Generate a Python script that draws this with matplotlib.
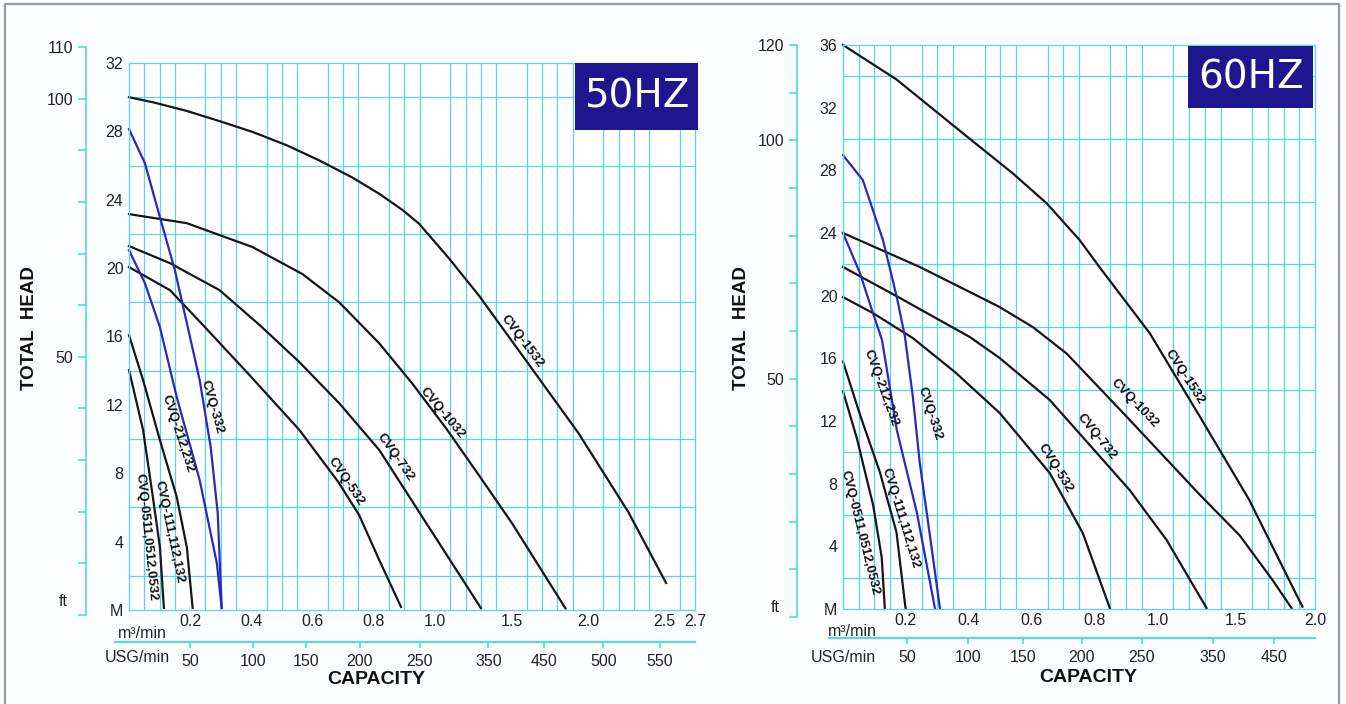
import numpy as np
import matplotlib.pyplot as plt
from matplotlib.patches import Rectangle

plt.rcParams['font.family'] = ['Liberation Sans', 'DejaVu Sans']

GRID = '#55d6ee'
BLUE = '#2c28bd'
BLACK = '#161616'
BOXC = '#1d168e'

W, H = 1346, 704


###### DATA ######
# capacity in m3/min, head in M

# --- 50HZ ---
q1532_50 = [0, 0.079, 0.188, 0.296, 0.405, 0.514, 0.622, 0.73, 0.818, 0.894, 0.948, 1.091, 1.287, 1.612, 1.938, 2.264, 2.511]
h1532_50 = [30.0, 29.7, 29.2, 28.6, 27.96, 27.2, 26.3, 25.3, 24.35, 23.4, 22.6, 20.58, 18.4, 14.39, 10.35, 5.73, 1.58]
q1032_50 = [0, 0.189, 0.404, 0.567, 0.687, 0.818, 0.925, 1.072, 1.287, 1.502, 1.853]
h1032_50 = [23.16, 22.63, 21.23, 19.65, 18.0, 15.6, 13.27, 10.64, 7.89, 5.1, 0.1]
q732_50 = [0, 0.134, 0.296, 0.427, 0.557, 0.687, 0.818, 0.98, 1.3]
h732_50 = [21.29, 20.29, 18.71, 16.67, 14.5, 12.1, 9.36, 4.85, 0.12]
q532_50 = [0, 0.134, 0.248, 0.394, 0.557, 0.684, 0.752, 0.818, 0.889]
h532_50 = [20.06, 18.71, 16.55, 13.74, 10.53, 7.49, 5.56, 2.92, 0.18]
q332_50 = [0, 0.052, 0.101, 0.15, 0.192, 0.231, 0.267, 0.29, 0.303]
h332_50 = [28.13, 26.14, 22.98, 19.88, 16.55, 13.45, 9.53, 5.67, 0.12]
q212_50 = [0, 0.052, 0.101, 0.156, 0.231, 0.287, 0.303]
h212_50 = [21.05, 19.12, 16.55, 12.46, 7.6, 2.75, 0.12]
q111_50 = [0, 0.046, 0.101, 0.156, 0.189, 0.208]
h111_50 = [16.08, 13.45, 9.94, 6.61, 3.68, 0.12]
q0511_50 = [0, 0.046, 0.078, 0.101, 0.114]
h0511_50 = [14.04, 10.53, 6.61, 3.68, 0.12]

# --- 60HZ ---
q1532_60 = [0, 0.17, 0.382, 0.54, 0.647, 0.752, 0.816, 0.975, 1.267, 1.58, 1.92]
h1532_60 = [36.0, 33.8, 30.35, 27.8, 25.9, 23.55, 21.8, 17.6, 12.3, 7.0, 0.15]
q1032_60 = [0, 0.244, 0.435, 0.498, 0.603, 0.711, 0.905, 1.267, 1.521, 1.73, 1.851]
h1032_60 = [24.0, 21.83, 19.91, 19.27, 18.0, 16.3, 12.2, 7.3, 4.7, 1.85, 0.06]
q732_60 = [0, 0.181, 0.403, 0.498, 0.657, 0.784, 0.911, 1.057, 1.311]
h732_60 = [21.83, 19.85, 17.36, 16.02, 13.34, 10.47, 7.59, 4.4, 0.06]
q532_60 = [0, 0.095, 0.222, 0.356, 0.498, 0.657, 0.762, 0.848]
h532_60 = [19.91, 18.89, 17.29, 15.12, 12.51, 8.68, 4.85, 0.06]
q332_60 = [0, 0.063, 0.127, 0.171, 0.197, 0.222, 0.244, 0.276, 0.308]
h332_60 = [28.97, 27.38, 23.55, 19.91, 17.36, 13.53, 9.32, 4.72, 0.06]
q212_60 = [0, 0.054, 0.092, 0.124, 0.171, 0.235, 0.292]
h212_60 = [24.0, 21.44, 19.08, 17.17, 11.42, 6.13, 0.06]
q111_60 = [0, 0.054, 0.117, 0.17, 0.199]
h111_60 = [15.8, 12.4, 8.75, 4.9, 0.0]
q0511_60 = [0, 0.044, 0.096, 0.123, 0.133]
h0511_60 = [13.9, 10.9, 6.6, 3.3, 0.0]

# curve labels
lab_names = ['CVQ-0511,0512,0532', 'CVQ-111,112,132', 'CVQ-212,232', 'CVQ-332',
             'CVQ-532', 'CVQ-732', 'CVQ-1032', 'CVQ-1532']
lab_q_50 = [0.055, 0.133, 0.159, 0.272, 0.71, 0.872, 1.048, 1.57]
lab_h_50 = [4.27, 4.56, 10.3, 11.9, 7.5, 8.95, 11.5, 15.7]
lab_rot_50 = [-84, -78, -72, -74, -56, -55, -50, -53]
lab_q_60 = [0.054, 0.184, 0.121, 0.276, 0.676, 0.806, 0.927, 1.17]
lab_h_60 = [4.85, 5.8, 14.1, 12.5, 9.0, 11.0, 13.1, 14.8]
lab_rot_60 = [-76, -73, -70, -72, -58, -51, -46, -57]

# axes ticks
m3_ticks_50 = [0.2, 0.4, 0.6, 0.8, 1.0, 1.5, 2.0, 2.5, 2.7]
m3_ticks_60 = [0.2, 0.4, 0.6, 0.8, 1.0, 1.5, 2.0]
usg_labels_50 = ['50', '100', '150', '200', '250', '350', '450', '500', '550']
usg_at_50 = [0.2, 0.405, 0.58, 0.755, 0.95, 1.35, 1.71, 2.1, 2.47]
usg_labels_60 = ['50', '100', '150', '200', '250', '350', '450']
usg_at_60 = [0.203, 0.397, 0.571, 0.759, 0.949, 1.35, 1.74]
head_ticks_50 = [0, 4, 8, 12, 16, 20, 24, 28, 32]
head_ticks_60 = [0, 4, 8, 12, 16, 20, 24, 28, 32, 36]
ft_ticks_50 = [50, 100, 110]
ft_ticks_60 = [50, 100, 120]


# capacity scale: 0-1.0 m3/min is drawn twice as wide as 1.0-2.7
def cap_fwd(q):
    q = np.asarray(q, dtype=float)
    return np.where(q <= 1.0, q * 20.0, 20.0 + (q - 1.0) * 10.0)


def cap_inv(c):
    c = np.asarray(c, dtype=float)
    return np.where(c <= 20.0, c / 20.0, 1.0 + (c - 20.0) / 10.0)


def px_rect(x0, y0, x1, y1):
    return [x0 / W, 1 - y1 / H, (x1 - x0) / W, (y1 - y0) / H]


fig = plt.figure(figsize=(W / 100, H / 100), dpi=100, facecolor='#fbfdfe')
fig.add_artist(Rectangle((5 / W, -0.01), 1334 / W, 1 - 4 / H + 0.01, transform=fig.transFigure,
                         fill=False, ec='#9c9c9c', lw=1.6))


def make_chart(rect, qmax, hmax, curves, labels, m3_ticks, usg_at, usg_labels,
               head_ticks, ft_rect, ft_max, ft_ticks, usg_rect, badge, badge_rect):
    ax = fig.add_axes(rect)
    ax.set_facecolor('white')
    ax.set_xscale('function', functions=(cap_fwd, cap_inv))
    ax.set_xlim(0, qmax)
    ax.set_ylim(0, hmax)

    # grid: 0.05 steps below 1.0, 0.1 steps above
    xminor = list(np.round(np.arange(0, 1.0, 0.05), 2)) + list(np.round(np.arange(1.0, qmax + 0.01, 0.1), 2))
    ax.set_xticks(xminor, minor=True)
    ax.set_yticks(np.arange(0, hmax + 1, 2), minor=True)
    ax.grid(which='minor', color=GRID, lw=0.9)
    ax.set_axisbelow(True)
    for s in ax.spines.values():
        s.set_color(GRID)
        s.set_linewidth(0.9)

    ax.set_xticks(m3_ticks)
    ax.set_xticklabels(['%.1f' % t for t in m3_ticks])
    ax.set_yticks(head_ticks)
    ax.set_yticklabels(['M'] + [str(t) for t in head_ticks[1:]])
    ax.tick_params(which='both', length=0, labelsize=11.5, colors='#222222')
    ax.tick_params(axis='x', pad=3)
    ax.tick_params(axis='y', pad=4)

    for q, h, c in curves:
        ax.plot(q, h, color=c, lw=1.6, solid_joinstyle='round', clip_on=False)

    for name, lq, lh, rot in labels:
        ax.text(lq, lh, name, rotation=rot, rotation_mode='anchor', ha='center', va='center',
                fontsize=9.5, fontweight='bold', color='#111111')

    # frequency badge
    ax.add_patch(Rectangle(badge_rect[:2], badge_rect[2], badge_rect[3], transform=ax.transAxes,
                           fc=BOXC, ec='none', clip_on=False, zorder=5))
    ax.text(badge_rect[0] + badge_rect[2] / 2, badge_rect[1] + badge_rect[3] / 2, badge,
            transform=ax.transAxes, ha='center', va='center', color='white',
            fontsize=28, family='DejaVu Sans', zorder=6)

    # feet axis
    axf = fig.add_axes(ft_rect)
    axf.patch.set_visible(False)
    for k in ['top', 'right', 'bottom']:
        axf.spines[k].set_visible(False)
    axf.spines['left'].set_color(GRID)
    axf.spines['left'].set_linewidth(1.2)
    axf.set_ylim(0, ft_max)
    axf.set_xticks([])
    axf.set_yticks(ft_ticks)
    axf.set_yticks(np.arange(0, ft_max + 1, 10), minor=True)
    axf.tick_params(axis='y', which='both', length=6, width=1.2, color=GRID, labelsize=11.5,
                    labelcolor='#222222', pad=3)

    # USG axis, same capacity scale as the grid (own ticks)
    axu = fig.add_axes(usg_rect)
    axu.patch.set_visible(False)
    axu.set_xscale('function', functions=(cap_fwd, cap_inv))
    axu.set_xlim(0, qmax)
    for k in ['left', 'right', 'bottom']:
        axu.spines[k].set_visible(False)
    axu.spines['top'].set_color(GRID)
    axu.spines['top'].set_linewidth(1.6)
    axu.spines['top'].set_bounds(-0.045, qmax)
    axu.set_yticks([])
    axu.set_xticks(usg_at)
    axu.set_xticks([], minor=True)
    axu.set_xticklabels(usg_labels)
    axu.tick_params(axis='x', which='major', top=True, bottom=False, direction='in', length=4,
                    width=1.2, color=GRID, labeltop=False, labelbottom=True, labelsize=11.5,
                    labelcolor='#222222', pad=3)
    return ax


curves_50 = [(q1532_50, h1532_50, BLACK), (q1032_50, h1032_50, BLACK), (q732_50, h732_50, BLACK),
             (q532_50, h532_50, BLACK), (q332_50, h332_50, BLUE), (q212_50, h212_50, BLUE),
             (q111_50, h111_50, BLACK), (q0511_50, h0511_50, BLACK)]
curves_60 = [(q1532_60, h1532_60, BLACK), (q1032_60, h1032_60, BLACK), (q732_60, h732_60, BLACK),
             (q532_60, h532_60, BLACK), (q332_60, h332_60, BLUE), (q212_60, h212_60, BLUE),
             (q111_60, h111_60, BLACK), (q0511_60, h0511_60, BLACK)]

ax50 = make_chart(px_rect(129, 63, 695, 610), 2.7, 32, curves_50,
                  list(zip(lab_names, lab_q_50, lab_h_50, lab_rot_50)),
                  m3_ticks_50, usg_at_50, usg_labels_50, head_ticks_50,
                  px_rect(86, 47, 87, 615), 110, ft_ticks_50,
                  px_rect(129, 642, 695, 650), '50HZ', (0.788, 0.877, 0.217, 0.123))
ax60 = make_chart(px_rect(843, 45, 1315, 609), 2.0, 36, curves_60,
                  list(zip(lab_names, lab_q_60, lab_h_60, lab_rot_60)),
                  m3_ticks_60, usg_at_60, usg_labels_60, head_ticks_60,
                  px_rect(797, 45, 798, 617), 120, ft_ticks_60,
                  px_rect(843, 638, 1315, 646), '60HZ', (0.731, 0.888, 0.265, 0.110))

# axis captions
for x, y in [(30, 328), (742, 328)]:
    fig.text(x / W, 1 - y / H, 'TOTAL  HEAD', rotation=90, ha='center', va='center',
             fontsize=13.5, fontweight='bold', color='#111111')
for x, y in [(376, 680), (1088, 678)]:
    fig.text(x / W, 1 - y / H, 'CAPACITY', ha='center', va='center',
             fontsize=14, fontweight='bold', color='#111111')
for x, y in [(142, 634), (852, 632)]:
    fig.text(x / W, 1 - y / H, 'm³/min', ha='center', va='center', fontsize=11.5, color='#222222')
for x, y in [(137, 657), (843, 657)]:
    fig.text(x / W, 1 - y / H, 'USG/min', ha='center', va='center', fontsize=11.5, color='#222222')
for x, y in [(63, 602), (775, 607)]:
    fig.text(x / W, 1 - y / H, 'ft', ha='center', va='center', fontsize=11.5, color='#222222')

fig.savefig('out.png', dpi=100, facecolor=fig.get_facecolor())
